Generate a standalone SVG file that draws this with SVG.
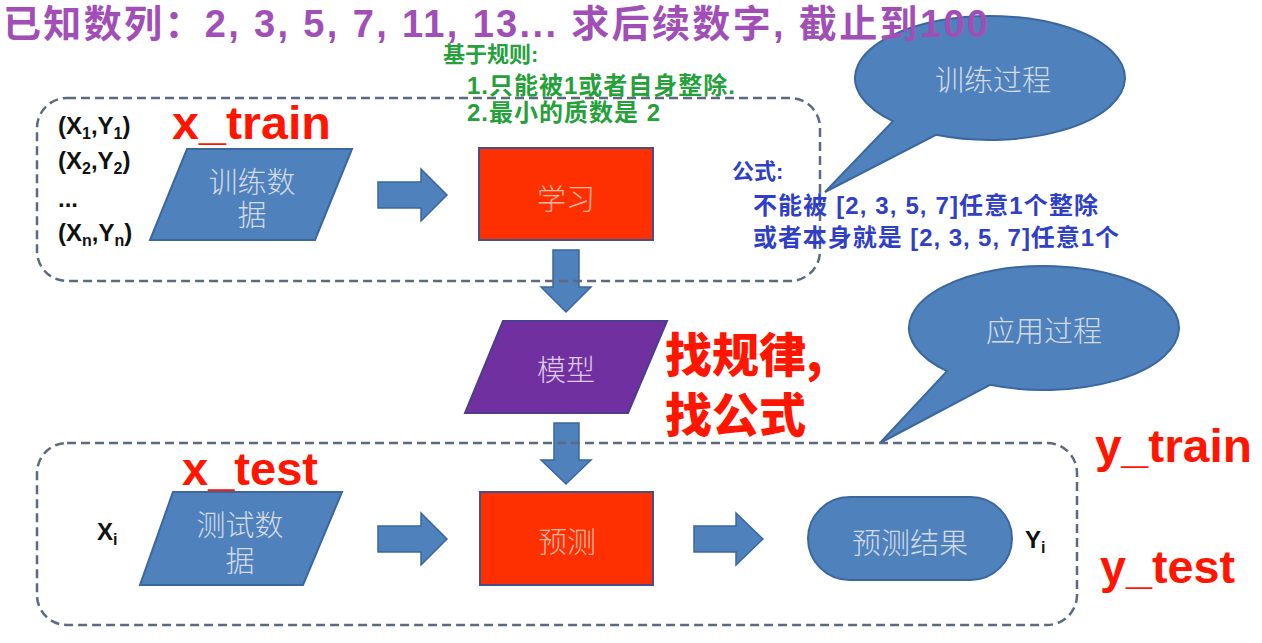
<svg xmlns="http://www.w3.org/2000/svg" width="1262" height="643" viewBox="0 0 1262 643">
<style>
.cjk{font-family:"Noto Sans CJK SC","Liberation Sans",sans-serif}
.mix{font-family:"Liberation Sans","Noto Sans CJK SC",sans-serif}
.lat{font-family:"Liberation Sans","Noto Sans CJK SC",sans-serif;font-weight:bold}
.blue{fill:#4f81bd;stroke:#3a679e;stroke-width:2}
.red{fill:#ff3000;stroke:#44508a;stroke-width:2}
.purple{fill:#7030a0;stroke:#4b3d8f;stroke-width:2}
.arrow{fill:#4f81bd;stroke:#3a679e;stroke-width:1.5}
.dash{fill:none;stroke:#5b6a7e;stroke-width:2.5;stroke-dasharray:9 5}
.st{font-size:29px;text-anchor:middle;font-weight:300}
.stb{fill:#d3dbe6}
.str{fill:#f7b9a8}
.stp{fill:#dccbe9}
.lbl{font-size:46px;fill:#ff1500}
.pair{font-size:24px;fill:#111}
.sub{font-size:16px}
.green{fill:#26a03a;font-weight:bold;font-size:24px}
.bluet{fill:#2f3fc6;font-weight:bold;font-size:24px}
</style>

<g id="bubble-train">
<path class="blue" d="M893,121.1 L825,192 L936,134.8 A135 62 0 1 0 893,121.1 Z"/>
<text class="cjk st stb" x="993" y="91">训练过程</text>
</g>
<g id="bubble-apply">
<path class="blue" d="M947,371.1 L880,443 L990,384.8 A135 62 0 1 0 947,371.1 Z"/>
<text class="cjk st stb" x="1044" y="342">应用过程</text>
</g>

<g id="connectors">
<path class="arrow" d="M378,182 H421 V169 L447,195 L421,221 V208 H378 Z"/>
<path class="arrow" d="M553,250 H579 V287 H591 L566,312 L541,287 H553 Z"/>
<path class="arrow" d="M554,423 H579 V460 H591 L566,484 L541,460 H554 Z"/>
<path class="arrow" d="M378,526 H421 V513 L447,539 L421,565 V552 H378 Z"/>
<path class="arrow" d="M694,526 H736 V513 L763,539 L736,565 V552 H694 Z"/>
</g>

<g id="train-data">
<polygon class="blue" points="187,149 352,149 315,240 150,240"/>
<text class="cjk st stb" x="252" y="193">训练数</text>
<text class="cjk st stb" x="252" y="226">据</text>
</g>
<g id="learn">
<rect class="red" x="479" y="148" width="174" height="92"/>
<text class="cjk st str" x="566" y="210">学习</text>
</g>
<g id="model">
<polygon class="purple" points="503,321 667,321 628,413 465,413"/>
<text class="cjk st stp" x="566" y="381">模型</text>
</g>
<g id="test-data">
<polygon class="blue" points="173,492 342,492 303,585 140,585"/>
<text class="cjk st stb" x="240" y="536">测试数</text>
<text class="cjk st stb" x="240" y="572">据</text>
</g>
<g id="predict">
<rect class="red" x="480" y="492" width="173" height="93"/>
<text class="cjk st str" x="567" y="553">预测</text>
</g>
<g id="result">
<rect class="blue" x="808" y="497" width="204" height="83" rx="41.5"/>
<text class="cjk st stb" x="910" y="554">预测结果</text>
</g>

<g id="train-container">
<rect class="dash" x="37" y="98" width="783" height="183" rx="30"/>
</g>
<g id="test-container">
<rect class="dash" x="37" y="443" width="1040" height="182" rx="30"/>
</g>

<g id="pairs" class="lat pair">
<text x="58" y="134">(X<tspan class="sub" dy="5">1</tspan><tspan dy="-5">,Y</tspan><tspan class="sub" dy="5">1</tspan><tspan dy="-5">)</tspan></text>
<text x="58" y="169">(X<tspan class="sub" dy="5">2</tspan><tspan dy="-5">,Y</tspan><tspan class="sub" dy="5">2</tspan><tspan dy="-5">)</tspan></text>
<text x="58" y="207">...</text>
<text x="58" y="241">(X<tspan class="sub" dy="5">n</tspan><tspan dy="-5">,Y</tspan><tspan class="sub" dy="5">n</tspan><tspan dy="-5">)</tspan></text>
<text x="97" y="540">X<tspan class="sub" dy="5">i</tspan></text>
<text x="1025" y="548">Y<tspan class="sub" dy="5">i</tspan></text>
</g>

<g id="labels" class="lat lbl">
<text x="172" y="139" textLength="159" lengthAdjust="spacingAndGlyphs">x_train</text>
<text x="182" y="485" textLength="136" lengthAdjust="spacingAndGlyphs">x_test</text>
<text x="1095" y="462" textLength="157" lengthAdjust="spacingAndGlyphs">y_train</text>
<text x="1100" y="583" textLength="135" lengthAdjust="spacingAndGlyphs">y_test</text>
</g>
<g id="rule-note">
<text class="cjk" x="665" y="372" style="font-size:47px;font-weight:900;fill:#ff1500">找规律,</text>
<text class="cjk" x="665" y="432" style="font-size:47px;font-weight:900;fill:#ff1500">找公式</text>
</g>

<g id="rules">
<text class="mix green" x="443" y="62" style="font-size:22px">基于规则:</text>
<text class="mix green" x="467" y="94" textLength="268" lengthAdjust="spacing">1.只能被1或者自身整除.</text>
<text class="mix green" x="467" y="121" textLength="193" lengthAdjust="spacing">2.最小的质数是 2</text>
</g>
<g id="formula">
<text class="mix bluet" x="732" y="179" style="font-size:22px">公式:</text>
<text class="mix bluet" x="753" y="214" textLength="345" lengthAdjust="spacing">不能被 [2, 3, 5, 7]任意1个整除</text>
<text class="mix bluet" x="753" y="246" textLength="366" lengthAdjust="spacing">或者本身就是 [2, 3, 5, 7]任意1个</text>
</g>

<g id="title">
<text class="mix" x="3" y="37" textLength="985" lengthAdjust="spacing" style="font-size:38px;font-weight:bold;fill:#a14fb6">已知数列：2, 3, 5, 7, 11, 13... 求后续数字, 截止到100</text>
</g>
</svg>
